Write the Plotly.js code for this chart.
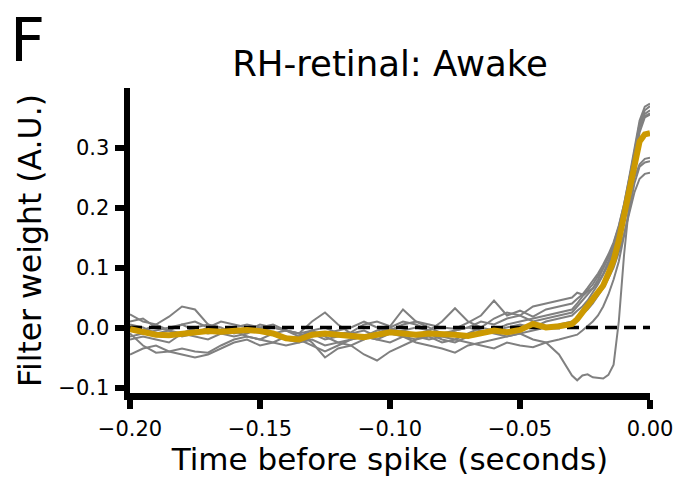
<!DOCTYPE html>
<html>
<head>
<meta charset="utf-8">
<script src="https://cdn.plot.ly/plotly-3.0.1.min.js"></script>
<style>html,body{margin:0;padding:0;background:#fff;}#chart{width:676px;height:477px;}</style>
</head>
<body>
<div id="chart"></div>
<script>
// Time before spike (seconds)
const timeSec = [-0.200,-0.195,-0.190,-0.185,-0.180,-0.175,-0.170,-0.165,-0.160,-0.155,
  -0.150,-0.145,-0.140,-0.135,-0.130,-0.125,-0.120,-0.115,-0.110,-0.105,
  -0.100,-0.095,-0.090,-0.085,-0.080,-0.075,-0.070,-0.065,-0.060,-0.055,
  -0.050,-0.045,-0.040,-0.035,-0.030,-0.028,-0.026,-0.024,-0.022,-0.020,
  -0.018,-0.016,-0.014,-0.012,-0.010,-0.008,-0.006,-0.004,-0.002,0.000];

// Individual filters (gray)
const filter1 = [0.022,0.010,0.005,0.018,0.035,0.030,0.005,-0.005,0.000,-0.008,
  -0.005,-0.012,-0.020,-0.015,-0.005,0.000,-0.010,-0.008,0.005,0.010,
  0.002,0.030,0.010,0.005,0.000,-0.002,0.008,0.020,0.045,0.020,
  0.028,0.018,0.030,0.035,0.040,0.048,0.055,0.062,0.072,0.085,
  0.100,0.118,0.140,0.168,0.205,0.250,0.300,0.345,0.368,0.373];
const filter2 = [-0.010,-0.030,-0.042,-0.040,-0.035,-0.040,-0.042,-0.030,-0.020,-0.015,
  -0.020,-0.010,-0.005,-0.010,-0.025,-0.050,-0.035,-0.030,-0.045,-0.055,
  -0.040,-0.030,-0.020,-0.015,-0.025,-0.020,-0.010,0.000,-0.005,0.005,
  0.010,0.015,0.020,0.025,0.030,0.040,0.052,0.060,0.065,0.080,
  0.098,0.115,0.135,0.162,0.198,0.245,0.295,0.340,0.362,0.369];
const filter3 = [0.005,0.000,-0.010,-0.005,-0.015,-0.010,0.000,0.010,0.005,0.000,
  -0.005,0.000,-0.005,-0.010,0.010,0.025,0.005,-0.010,-0.015,-0.005,
  0.000,0.010,0.005,-0.005,0.010,0.032,0.010,0.000,0.015,0.025,
  0.020,0.035,0.040,0.045,0.050,0.058,0.055,0.066,0.078,0.090,
  0.105,0.122,0.142,0.170,0.205,0.245,0.290,0.335,0.356,0.362];
const filter4 = [-0.020,-0.015,-0.020,-0.025,-0.010,-0.015,-0.020,-0.010,-0.005,-0.015,
  -0.020,-0.025,-0.030,-0.025,-0.020,-0.030,-0.025,-0.020,-0.015,-0.020,
  -0.025,-0.015,-0.020,-0.010,-0.020,-0.025,-0.015,-0.010,-0.005,0.000,
  0.005,0.000,0.010,0.015,0.020,0.028,0.035,0.045,0.058,0.072,
  0.088,0.105,0.125,0.150,0.180,0.215,0.250,0.272,0.281,0.283];
const filter5 = [-0.045,-0.035,-0.030,-0.040,-0.045,-0.050,-0.045,-0.035,-0.025,-0.020,
  -0.030,-0.025,-0.015,-0.020,-0.030,-0.040,-0.030,-0.020,-0.015,-0.020,
  -0.010,-0.015,-0.025,-0.030,-0.035,-0.042,-0.030,-0.025,-0.020,-0.015,
  -0.010,-0.005,0.000,0.005,0.010,0.015,0.022,0.030,0.040,0.052,
  0.066,0.082,0.100,0.125,0.155,0.190,0.225,0.248,0.256,0.258];
const filter6 = [0.000,-0.005,0.005,-0.005,-0.010,0.000,0.005,0.000,-0.010,-0.005,
  0.005,0.000,-0.005,-0.015,-0.010,-0.020,-0.015,-0.010,-0.005,-0.015,
  -0.010,-0.005,0.000,-0.005,-0.015,-0.020,-0.025,-0.030,-0.035,-0.025,
  -0.030,-0.033,-0.025,-0.020,-0.015,-0.012,-0.005,0.002,0.010,0.020,
  0.035,0.055,0.080,0.110,0.150,0.195,0.240,0.268,0.275,0.277];
const filter7 = [-0.015,-0.010,-0.005,0.000,0.005,-0.005,-0.010,-0.005,0.000,0.005,
  0.000,-0.010,-0.020,-0.025,-0.015,-0.010,-0.005,0.000,0.010,0.000,
  -0.005,0.005,0.010,0.000,-0.010,-0.005,0.000,-0.005,-0.010,-0.015,
  -0.010,-0.020,-0.025,-0.045,-0.080,-0.088,-0.080,-0.078,-0.083,-0.084,
  -0.085,-0.079,-0.062,0.010,0.120,0.205,0.275,0.325,0.350,0.355];
const filter8 = [0.010,0.015,0.000,-0.005,0.005,0.010,0.000,-0.010,-0.015,-0.010,
  0.000,0.005,-0.005,-0.010,-0.005,-0.015,-0.025,-0.030,-0.020,-0.010,
  0.000,-0.010,-0.015,-0.020,-0.015,-0.005,0.000,0.010,0.005,0.015,
  0.020,0.010,0.015,0.020,0.025,0.035,0.045,0.055,0.065,0.075,
  0.090,0.110,0.130,0.158,0.195,0.240,0.290,0.333,0.352,0.357];

// Mean filter (gold)
const meanFilter = [-0.003,-0.008,-0.012,-0.013,-0.010,-0.008,-0.006,-0.007,-0.005,-0.004,
  -0.006,-0.010,-0.018,-0.020,-0.012,-0.010,-0.012,-0.014,-0.016,-0.012,
  -0.008,-0.010,-0.012,-0.010,-0.010,-0.012,-0.014,-0.010,-0.005,-0.008,
  -0.004,0.006,0.000,0.002,0.006,0.014,0.025,0.036,0.046,0.057,
  0.070,0.090,0.112,0.145,0.185,0.228,0.272,0.310,0.322,0.324];

// Zero reference line
const zeroLineX = [-0.200, 0.000];
const zeroLineY = [0, 0];

const xTicks = [-0.20,-0.15,-0.10,-0.05,0.00];
const yTicks = [-0.1,0.0,0.1,0.2,0.3];

const grayFilters = [filter1,filter2,filter3,filter4,filter5,filter6,filter7,filter8];

const FONT = "DejaVu Sans, sans-serif";
const traces = grayFilters.map(f => ({
  x: timeSec, y: f, type: 'scatter', mode: 'lines',
  line: {color: '#808080', width: 2}, hoverinfo: 'skip', showlegend: false
}));
traces.push({x: zeroLineX, y: zeroLineY, type: 'scatter', mode: 'lines',
  line: {color: '#000000', width: 3.5, dash: '12px,7px'}, showlegend: false});
traces.push({x: timeSec, y: meanFilter, type: 'scatter', mode: 'lines',
  line: {color: '#cc9900', width: 6}, showlegend: false});

const L = 130, R = 26, T = 88, B = 84;
const pw = 676 - L - R, ph = 477 - T - B;
const zeroPx = 327.5, pxPerUnit = 600;

const layout = {
  width: 676, height: 477,
  margin: {l: L, r: R, t: T, b: B, pad: 0},
  paper_bgcolor: '#ffffff', plot_bgcolor: '#ffffff',
  font: {family: FONT, color: '#000000'},
  showlegend: false,
  title: {text: 'RH-retinal: Awake', font: {family: FONT, size: 35.5, color: '#000'},
          x: 0.5, xref: 'paper', xanchor: 'center', y: 1 - 64/477, yref: 'container', yanchor: 'middle'},
  xaxis: {
    range: [-0.2, 0.0], tickvals: xTicks, tickformat: '.2f',
    showgrid: false, zeroline: false, showline: true, linecolor: '#000', linewidth: 6.5,
    ticks: 'outside', ticklen: 9, tickwidth: 6, tickcolor: '#000', ticklabelstandoff: 2,
    tickfont: {family: FONT, size: 21, color: '#000'},
    title: {text: 'Time before spike (seconds)', font: {family: FONT, size: 31, color: '#000'}, standoff: 9}
  },
  yaxis: {
    range: [-((477 - B) - zeroPx)/pxPerUnit, (zeroPx - T)/pxPerUnit], tickvals: yTicks, tickformat: '.1f',
    showgrid: false, zeroline: false, showline: true, linecolor: '#000', linewidth: 6.5,
    ticks: 'outside', ticklen: 9, tickwidth: 6, tickcolor: '#000', ticklabelstandoff: 1,
    tickfont: {family: FONT, size: 21, color: '#000'},
    title: {text: 'Filter weight (A.U.)', font: {family: FONT, size: 31.5, color: '#000'}, standoff: 10}
  },
  annotations: [{
    text: 'F', xref: 'paper', yref: 'paper', x: (8 - L)/pw, y: (477 - B - 39)/ph,
    xanchor: 'left', yanchor: 'middle', showarrow: false,
    font: {family: FONT, size: 61, color: '#000'}
  }]
};

Plotly.newPlot('chart', traces, layout, {staticPlot: true, displayModeBar: false});
</script>
</body>
</html>
